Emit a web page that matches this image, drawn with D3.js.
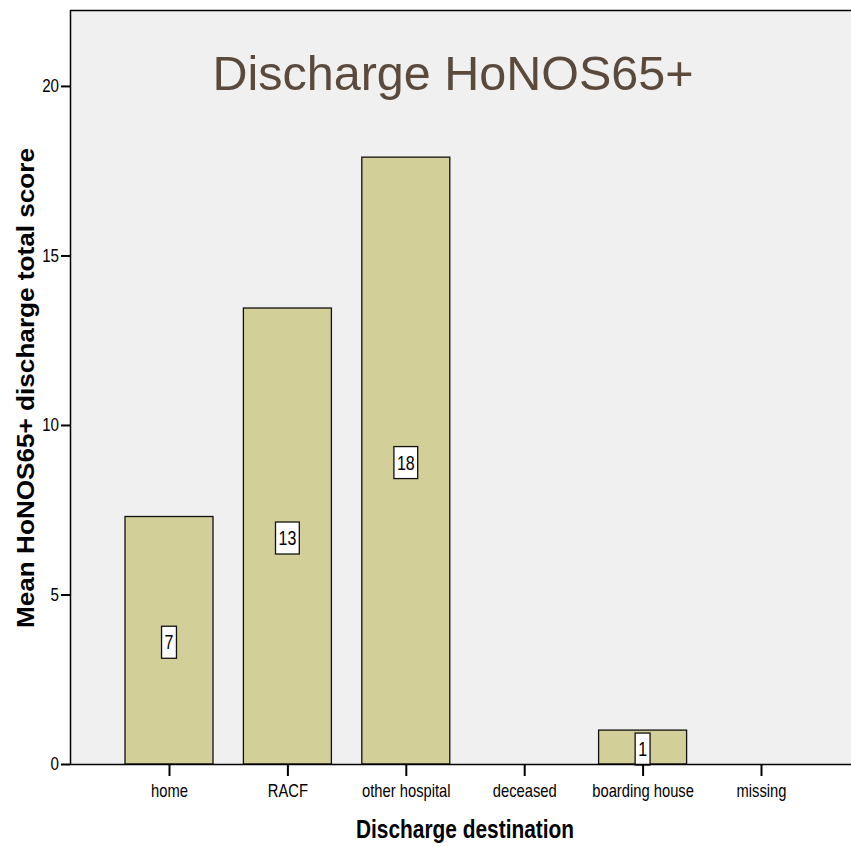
<!DOCTYPE html>
<html>
<head>
<meta charset="utf-8">
<script src="https://cdn.jsdelivr.net/npm/d3@7"></script>
<style>
  html, body { margin: 0; padding: 0; background: #ffffff; }
  svg { display: block; }
</style>
</head>
<body>
<svg id="chart" width="851" height="846"></svg>
<script>
// Mean HoNOS65+ discharge total score by discharge destination
const categories = ["home", "RACF", "other hospital", "deceased", "boarding house", "missing"];
const meanScores = [7.3, 13.45, 17.9, null, 1.0, null];
const yTicks = [0, 5, 10, 15, 20];

const plot = { left: 70, top: 10, right: 851, bottom: 764 };
const sans = "'Liberation Sans', Arial, sans-serif";
const NARROW = 0.82; // horizontal squeeze for a condensed look

const svg = d3.select("#chart");

const x = d3.scalePoint()
  .domain(categories)
  .range([169, 761]);
const barWidth = 88;

const y = d3.scaleLinear()
  .domain([0, 22.24])
  .range([plot.bottom, plot.top]);

// plot background
svg.append("rect")
  .attr("x", plot.left).attr("y", plot.top)
  .attr("width", plot.right - plot.left).attr("height", plot.bottom - plot.top)
  .attr("fill", "#f0f0f0");

// top frame line
svg.append("line")
  .attr("x1", plot.left).attr("x2", plot.right)
  .attr("y1", plot.top + 0.5).attr("y2", plot.top + 0.5)
  .attr("stroke", "#000").attr("stroke-width", 1.5);

// title
svg.append("text")
  .attr("x", 453).attr("y", 90)
  .attr("text-anchor", "middle")
  .attr("font-family", sans)
  .attr("font-size", 48.5)
  .attr("fill", "#5b4a3c")
  .text("Discharge HoNOS65+");

// bars
const data = categories.map((c, i) => ({ cat: c, value: meanScores[i] }))
  .filter(d => d.value != null);

svg.append("g").selectAll("rect")
  .data(data)
  .join("rect")
  .attr("x", d => x(d.cat) - barWidth / 2)
  .attr("y", d => y(d.value))
  .attr("width", barWidth)
  .attr("height", d => y(0) - y(d.value))
  .attr("fill", "#d3cf99")
  .attr("stroke", "#111")
  .attr("stroke-width", 1.3);

// value labels in white boxes at bar centre
const fmt = d3.format(".0f");
const labels = svg.append("g").selectAll("g")
  .data(data)
  .join("g")
  .attr("transform", d => `translate(${x(d.cat)},${(y(d.value) + y(0)) / 2 + 2})`);

labels.each(function (d) {
  const g = d3.select(this);
  const t = g.append("text")
    .attr("text-anchor", "middle")
    .attr("dy", "0.36em")
    .attr("transform", `scale(${NARROW},1)`)
    .attr("font-family", sans)
    .attr("font-size", 19.5)
    .attr("fill", "#000")
    .text(fmt(d.value));
  const bw = t.node().getComputedTextLength() * NARROW + 6;
  g.insert("rect", "text")
    .attr("x", -bw / 2).attr("y", -16)
    .attr("width", bw).attr("height", 32)
    .attr("fill", "#fff")
    .attr("stroke", "#111")
    .attr("stroke-width", 1.3);
});

// y axis
const yAxis = svg.append("g")
  .attr("transform", `translate(${plot.left},0)`)
  .call(d3.axisLeft(y).tickValues(yTicks).tickSize(9).tickPadding(2).tickFormat(d3.format("d")));
yAxis.select(".domain").attr("stroke", "#000").attr("stroke-width", 1.5)
  .attr("d", `M0.5,${plot.top}V${plot.bottom}`);
yAxis.selectAll(".tick line").attr("stroke", "#000").attr("stroke-width", 2);
yAxis.selectAll(".tick text")
  .attr("x", -11 / NARROW)
  .attr("transform", `scale(${NARROW},1)`)
  .attr("font-family", sans).attr("font-size", 18.5).attr("fill", "#000");

// x axis
const xAxis = svg.append("g")
  .attr("transform", `translate(0,${plot.bottom})`)
  .call(d3.axisBottom(x).tickSize(12).tickPadding(8));
xAxis.select(".domain").attr("stroke", "#000").attr("stroke-width", 1.5)
  .attr("d", `M${plot.left},0.5H${plot.right}`);
xAxis.selectAll(".tick line").attr("stroke", "#000").attr("stroke-width", 2);
xAxis.selectAll(".tick text")
  .attr("transform", `scale(${NARROW},1)`)
  .attr("font-family", sans).attr("font-size", 18).attr("fill", "#000");

// axis titles
svg.append("text")
  .attr("transform", `translate(465,838) scale(${NARROW},1)`)
  .attr("text-anchor", "middle")
  .attr("font-family", sans)
  .attr("font-weight", "bold")
  .attr("font-size", 25.5)
  .attr("fill", "#000")
  .text("Discharge destination");

svg.append("text")
  .attr("transform", "translate(34,388) rotate(-90)")
  .attr("text-anchor", "middle")
  .attr("font-family", sans)
  .attr("font-weight", "bold")
  .attr("font-size", 23.5)
  .attr("textLength", 480)
  .attr("lengthAdjust", "spacingAndGlyphs")
  .attr("fill", "#000")
  .text("Mean HoNOS65+ discharge total score");
</script>
</body>
</html>
